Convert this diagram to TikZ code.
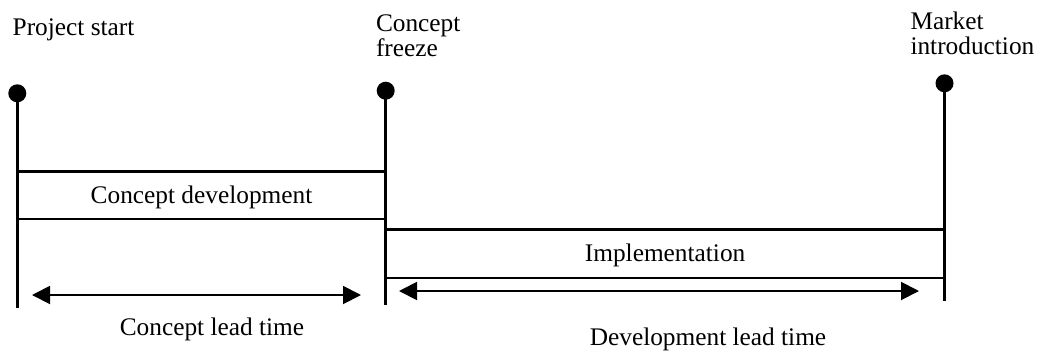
\documentclass[tikz,border=0pt]{standalone}
\usepackage{fontspec}
\setmainfont{Liberation Serif}
\usetikzlibrary{arrows.meta}
\begin{document}
\begin{tikzpicture}[x=0.75pt,y=-0.75pt,
  every node/.style={font=\fontsize{19}{18.75}\selectfont},
  milestone/.style={circle,fill=black,inner sep=0pt,outer sep=0pt,minimum size=13.5pt},
  post/.style={line width=2pt},
  phase/.style={rectangle,inner sep=0pt,outer sep=0pt,text height=14pt,text depth=2pt},
  phaseline/.style={line width=1.7pt},
  span/.style={line width=1.4pt,
    {Triangle[length=13.5pt,width=13.5pt]}-{Triangle[length=13.5pt,width=13.5pt]}},
  lbl/.style={inner sep=0pt,outer sep=0pt},
]
\useasboundingbox (0,0) rectangle (1038,351);

% milestones
\node[milestone] (ps) at (17.3,93.3) {};
\node[milestone] (cf) at (385.7,90.7) {};
\node[milestone] (mi) at (944.5,83.3) {};
\coordinate (psb) at (17.3,308);
\coordinate (cfb) at (385.7,305);
\coordinate (mib) at (944.5,301);
\draw[post] (ps.center) -- (psb);
\draw[post] (cf.center) -- (cfb);
\draw[post] (mi.center) -- (mib);

% milestone captions
\node[lbl,anchor=base west] (pst) at (12.7,35) {Project start};
\node[lbl,anchor=north west,align=left] (cft) at (376,15) {Concept\\freeze};
\node[lbl,anchor=north west,align=left] (mit) at (910.5,11.5) {Market\\introduction};

% phases
\node[phase,minimum width=276.3pt,minimum height=35.6pt] (cd) at (201.5,195.25) {Concept development};
\draw[phaseline] (cd.north west) -- (cd.north east);
\draw[phaseline] (cd.south west) -- (cd.south east);
\node[phase,minimum width=419.1pt,minimum height=36.4pt] (im) at (665.1,253.75) {Implementation};
\draw[phaseline] (im.north west) -- (im.north east);
\draw[phaseline] (im.south west) -- (im.south east);

% lead times
\coordinate (cla) at (32,295);
\coordinate (clb) at (361,295);
\draw[span] (cla) -- (clb);
\node[lbl,anchor=base] (clt) at (212,335) {Concept lead time};
\coordinate (dla) at (399,291);
\coordinate (dlb) at (919,291);
\draw[span] (dla) -- (dlb);
\node[lbl,anchor=base] (dlt) at (708,345) {Development lead time};
\end{tikzpicture}
\end{document}
